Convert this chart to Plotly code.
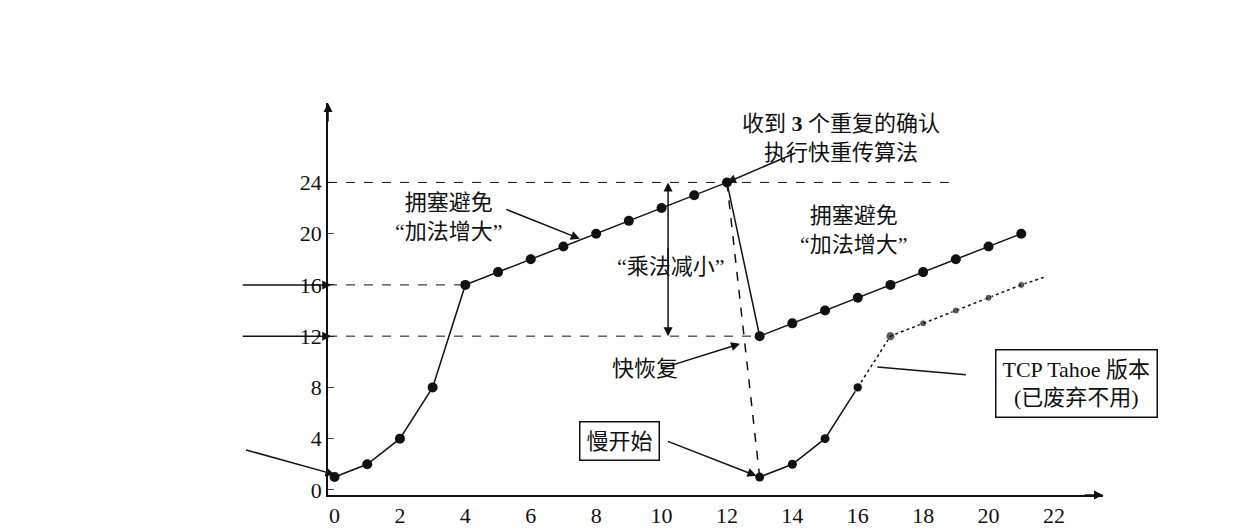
import plotly.graph_objects as go

reno_x = list(range(0, 22))
reno_y = [1, 2, 4, 8, 16, 17, 18, 19, 20, 21, 22, 23, 24,
          12, 13, 14, 15, 16, 17, 18, 19, 20]
tahoe_x = [12, 13, 14, 15, 16, 17, 18, 19, 20, 21]
tahoe_y = [24, 1, 2, 4, 8, 12, 13, 14, 15, 16]
x_ticks = [0, 2, 4, 6, 8, 10, 12, 14, 16, 18, 20, 22]
y_ticks = [0, 4, 8, 12, 16, 20, 24]

CJK = "Noto Sans CJK SC"
NUM = "Liberation Serif, Noto Sans CJK SC"
black = "#111"

fig = go.Figure()

# dashed guide lines
for yv, x1 in [(24, 19), (16, 4), (12, 13)]:
    fig.add_shape(type="line", x0=-0.2, x1=x1, y0=yv, y1=yv,
                  line=dict(color=black, width=1, dash="dash"))

# Tahoe: dashed drop and tail, solid slow start
fig.add_trace(go.Scatter(x=tahoe_x[:2], y=tahoe_y[:2], mode="lines",
                         line=dict(color=black, width=1.5, dash="dash")))
fig.add_trace(go.Scatter(x=tahoe_x[1:5], y=tahoe_y[1:5], mode="lines+markers",
                         line=dict(color=black, width=1.5),
                         marker=dict(size=9, color=black)))
fig.add_trace(go.Scatter(x=tahoe_x[4:] + [21.7], y=tahoe_y[4:] + [16.6], mode="lines+markers",
                         line=dict(color=black, width=1.5, dash="dot"),
                         marker=dict(size=[9, 9, 7, 7, 7, 7, 0], color=black)))
# Reno
fig.add_trace(go.Scatter(x=reno_x, y=reno_y, mode="lines+markers",
                         line=dict(color=black, width=1.5),
                         marker=dict(size=10, color=black)))

ann = []

def arrow(x, y, ax, ay, head=2):
    ann.append(dict(x=x, y=y, xref="x", yref="y", ax=ax, ay=ay, axref="pixel", ayref="pixel",
                    text="", showarrow=True, arrowhead=head, arrowsize=1.2, arrowwidth=1.5,
                    arrowcolor=black))

# axis arrows
arrow(23.5, -0.4, -20, 0)
arrow(-0.2, 30.2, 0, 20)

arrow(12, 24, 70, -30)
arrow(7.5, 19.6, -75, -30)
arrow(10.2, 24, 0, 90)
arrow(10.2, 12, 0, -90)
arrow(-0.1, 16, -90, 0)
arrow(-0.1, 12, -90, 0)
arrow(0, 1.2, -90, -25)
arrow(12.4, 11.4, -80, 25)
arrow(12.9, 1.1, -90, -35)
arrow(16.6, 9.6, 90, 8, head=0)

def dtext(x, y, text, box=False, size=22):
    a = dict(x=x, y=y, xref="x", yref="y", text=text, showarrow=False,
             font=dict(family=NUM, size=size, color=black))
    if box:
        a.update(bordercolor=black, borderwidth=1.5, bgcolor="white", borderpad=6)
    ann.append(a)

dtext(15.5, 27.5, "收到 <b>3</b> 个重复的确认<br>执行快重传算法")
dtext(3.5, 21.3, "拥塞避免<br>“加法增大”")
dtext(10.3, 17.4, "“乘法减小”")
dtext(15.9, 20.3, "拥塞避免<br>“加法增大”")
dtext(24.2, 20.6, "<b>TCP Reno</b> 版本")
dtext(-4.6, 15.8, "<b>ssthresh</b> 的初始值")
dtext(-4.3, 11.8, "新的 <b>ssthresh</b> 值")
dtext(-3.9, 2.8, "慢开始")
dtext(9.5, 9.5, "快恢复")
dtext(8.7, 3.8, "慢开始", box=True)
dtext(22.7, 8.3, "TCP Tahoe 版本<br>(已废弃不用)", box=True)
dtext(-2.4, 29.8, "拥塞窗口 <b>cwnd</b>")
dtext(24.8, 1.3, "传输轮次")

fig.update_layout(
    width=1242, height=532, showlegend=False,
    plot_bgcolor="white", paper_bgcolor="white",
    margin=dict(l=320, r=147, t=95, b=32),
    annotations=ann,
    xaxis=dict(range=[-0.2, 23.5], tickvals=x_ticks, showgrid=False, zeroline=False,
               showline=True, linecolor=black, linewidth=1.5, ticks="",
               tickfont=dict(family=NUM, size=22, color=black)),
    yaxis=dict(range=[-0.4, 30.2], tickvals=y_ticks, showgrid=False, zeroline=False,
               showline=True, linecolor=black, linewidth=1.5, ticks="inside", ticklen=6,
               tickfont=dict(family=NUM, size=22, color=black)),
)

fig.write_html("out.html")
